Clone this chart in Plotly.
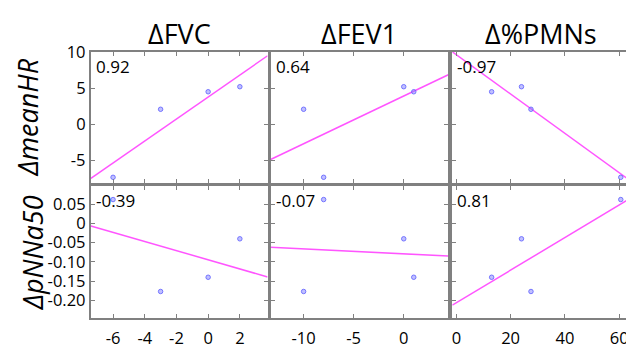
import numpy as np
import plotly.graph_objects as go

# ---- data ----
d_fvc = [-6, -3, 0, 2]
d_fev1 = [-8, -10, 1, 0]
d_pmns = [60.6, 27.5, 13, 24]
d_meanhr = [-7.37, 2.07, 4.5, 5.2]
d_pnna50 = [0.062, -0.177, -0.140, -0.040]

col_titles = ["ΔFVC", "ΔFEV1", "Δ%PMNs"]
row_titles = ["ΔmeanHR", "ΔpNNa50"]
corr_labels = [["0.92", "0.64", "-0.97"], ["-0.39", "-0.07", "0.81"]]
x_tickvals = [[-6, -4, -2, 0, 2], [-10, -5, 0], [0, 20, 40, 60]]
x_ticktext = [["-6", "-4", "-2", "0", "2"], ["-10", "-5", "0"], ["0", "20", "40", "60"]]
y_tickvals = [[-5, 0, 5, 10], [-0.20, -0.15, -0.10, -0.05, 0, 0.05]]
y_ticktext = [["-5", "0", "5", "10"], ["-0.20", "-0.15", "-0.10", "-0.05", "0", "0.05"]]

xs = [d_fvc, d_fev1, d_pmns]
ys = [d_meanhr, d_pnna50]

# ---- layout constants (figure placed after the page's 8px body margin) ----
W, H = 626, 341
x_ranges = [[-7.4, 3.75], [-13.3, 4.45], [-1.5, 64]]
y_ranges = [[-8.2, 10.03], [-0.247, 0.097]]
x_px = [(82, 259), (262, 440), (444, 622)]
y_px = [(34, 174), (177, 318)]
row_title_x = [19, 23]
FONT = "Open Sans"
GRAY = "#808080"

fig = go.Figure()
layout = dict(width=W, height=H, margin=dict(l=0, r=0, t=0, b=0),
              paper_bgcolor="white", plot_bgcolor="white", showlegend=False,
              font=dict(family=FONT, color="black"))
annotations = []

for r in range(2):
    for c in range(3):
        k = r * 3 + c + 1
        xa = "x" if k == 1 else f"x{k}"
        ya = "y" if k == 1 else f"y{k}"
        xv = np.array(xs[c], dtype=float)
        yv = np.array(ys[r], dtype=float)
        slope, icpt = np.polyfit(xv, yv, 1)
        lx = np.array(x_ranges[c])
        fig.add_trace(go.Scatter(x=lx, y=slope * lx + icpt, mode="lines",
                                 line=dict(color="#ff55ff", width=1.5),
                                 xaxis=xa, yaxis=ya, hoverinfo="skip"))
        fig.add_trace(go.Scatter(x=xv, y=yv, mode="markers",
                                 marker=dict(size=4.5, color="rgba(130,130,255,0.5)",
                                             line=dict(color="rgba(100,100,255,0.85)", width=1)),
                                 xaxis=xa, yaxis=ya))
        axcommon = dict(showline=True, mirror="ticks", linecolor=GRAY, linewidth=2,
                        ticks="inside", ticklen=4, tickcolor=GRAY, tickwidth=1,
                        showgrid=False, zeroline=False, fixedrange=True,
                        tickfont=dict(family=FONT, size=16.5, color="black"))
        xkey = "xaxis" if k == 1 else f"xaxis{k}"
        ykey = "yaxis" if k == 1 else f"yaxis{k}"
        layout[xkey] = dict(axcommon, anchor=ya, range=x_ranges[c],
                            domain=[x_px[c][0] / W, x_px[c][1] / W],
                            tickmode="array", tickvals=x_tickvals[c], ticktext=x_ticktext[c],
                            showticklabels=(r == 1), ticklabelstandoff=4)
        layout[ykey] = dict(axcommon, anchor=xa, range=y_ranges[r],
                            domain=[1 - y_px[r][1] / H, 1 - y_px[r][0] / H],
                            tickmode="array", tickvals=y_tickvals[r], ticktext=y_ticktext[r],
                            showticklabels=(c == 0), ticklabelstandoff=0)
        annotations.append(dict(xref="paper", yref="paper",
                                x=(x_px[c][0] + 3) / W, y=1 - (y_px[r][0] + 1) / H,
                                xanchor="left", yanchor="top", showarrow=False,
                                text=corr_labels[r][c], font=dict(family=FONT, size=17)))

for c in range(3):
    annotations.append(dict(xref="paper", yref="paper",
                            x=(x_px[c][0] + x_px[c][1]) / 2 / W, y=1 - 14 / H,
                            xanchor="center", yanchor="middle", showarrow=False,
                            text=col_titles[c], font=dict(family=FONT, size=27)))
for r in range(2):
    annotations.append(dict(xref="paper", yref="paper",
                            x=row_title_x[r] / W, y=1 - (y_px[r][0] + y_px[r][1]) / 2 / H,
                            xanchor="center", yanchor="middle", showarrow=False, textangle=-90,
                            text=f"<i>{row_titles[r]}</i>", font=dict(family=FONT, size=27)))

layout["annotations"] = annotations
fig.update_layout(**layout)
fig.write_html("out.html")
